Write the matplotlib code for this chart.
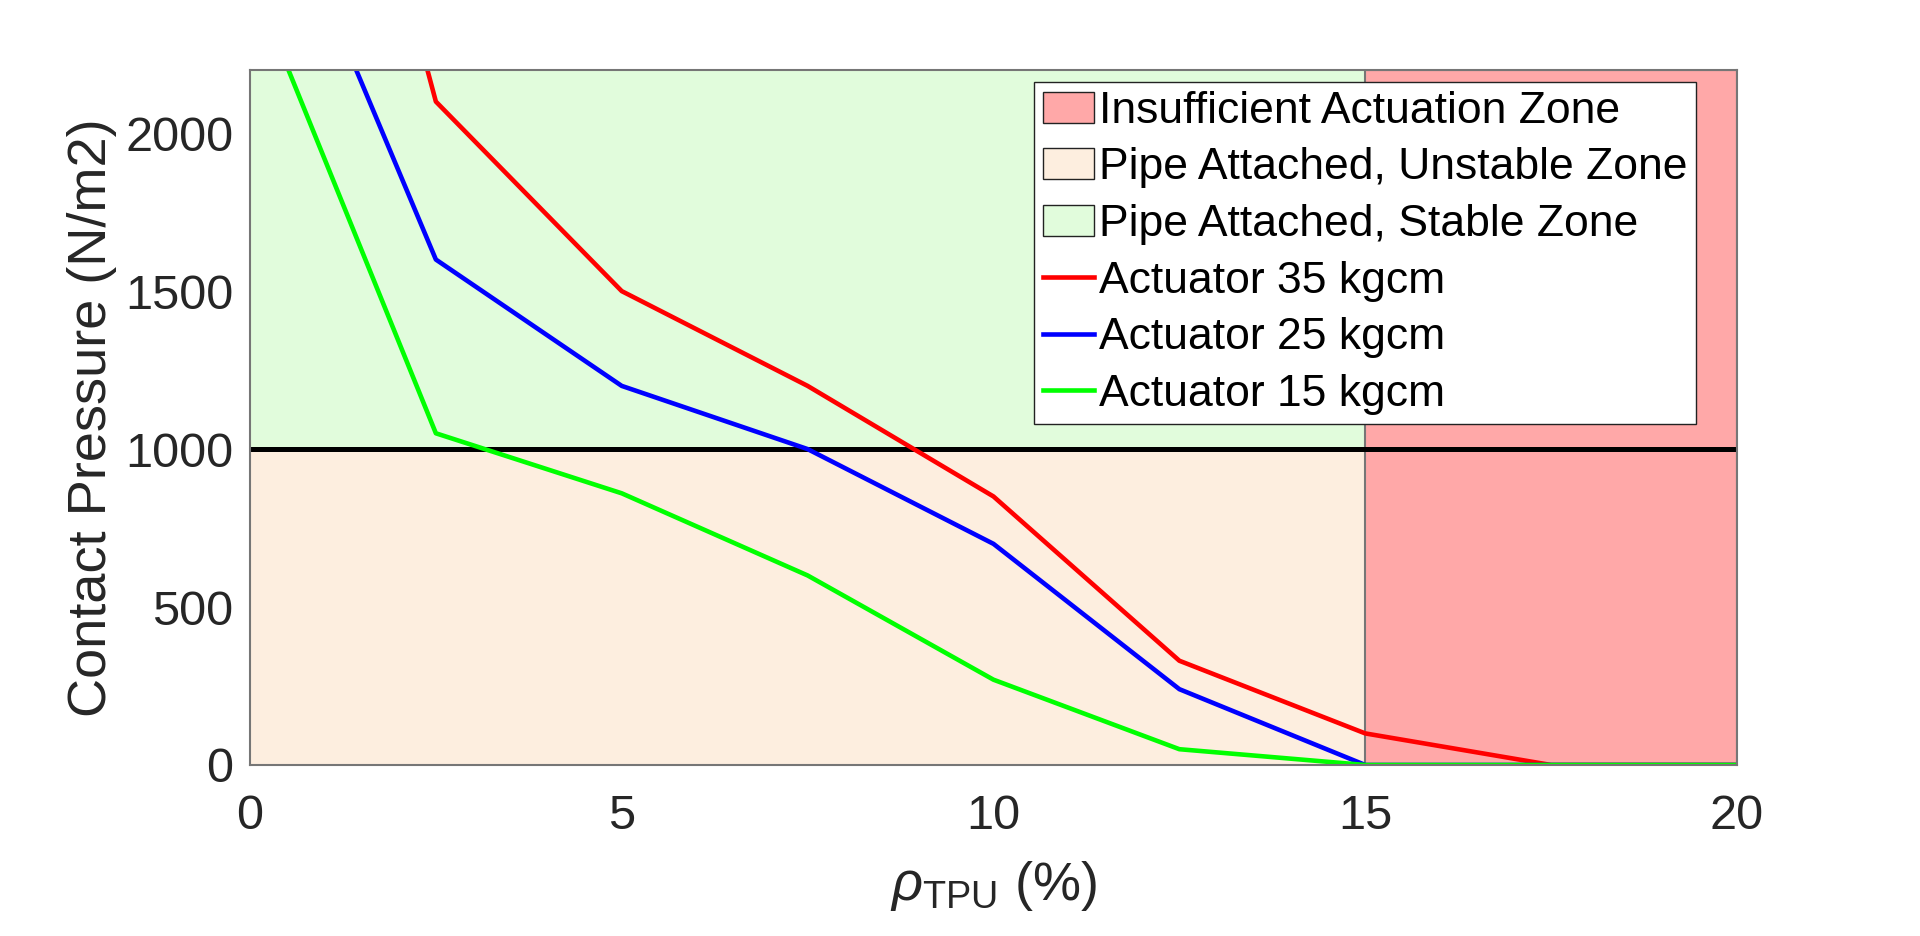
import matplotlib
matplotlib.use("Agg")
import matplotlib.pyplot as plt
from matplotlib.patches import Patch
from matplotlib.lines import Line2D

plt.rcParams['font.family'] = ['Liberation Sans', 'DejaVu Sans']
plt.rcParams['mathtext.fontset'] = 'custom'
plt.rcParams['mathtext.rm'] = 'Liberation Sans'
plt.rcParams['mathtext.it'] = 'Liberation Sans:italic'

# Data
rho = [0, 2.5, 5, 7.5, 10, 12.5, 15, 17.5, 20]
act35 = [4300, 2100, 1500, 1200, 850, 330, 100, 0, 0]
act25 = [3000, 1600, 1200, 1000, 700, 240, 0, 0, 0]
act15 = [2500, 1050, 860, 600, 270, 50, 0, 0, 0]
threshold = 1000
stable_limit = 15
x_max = 20
y_max = 2200

labels = ["Insufficient Actuation Zone", "Pipe Attached, Unstable Zone",
          "Pipe Attached, Stable Zone", "Actuator 35 kgcm",
          "Actuator 25 kgcm", "Actuator 15 kgcm"]

c_red = '#FFA8A8'
c_peach = '#FDEEDF'
c_green = '#E1FCDC'
edge = '#767676'
tick_col = '#262626'

W, H = 1920, 936
fig = plt.figure(figsize=(W/100, H/100), dpi=100)
ax = fig.add_axes([250/W, 1-765/H, (1737-250)/W, (765-70)/H])

ax.fill_between([0, stable_limit], [threshold, threshold], [y_max, y_max],
                facecolor=c_green, edgecolor='none', zorder=1)
ax.fill_between([0, stable_limit], [0, 0], [threshold, threshold],
                facecolor=c_peach, edgecolor='none', zorder=1)
ax.fill_between([stable_limit, x_max], [0, 0], [y_max, y_max],
                facecolor=c_red, edgecolor=edge, linewidth=1.5, zorder=1)

ax.axhline(threshold, color='black', linewidth=3.6, zorder=3)
lw = 3.3
ax.plot(rho, act35, color='#FF0000', linewidth=lw, zorder=4)
ax.plot(rho, act25, color='#0000FF', linewidth=lw, zorder=4)
ax.plot(rho, act15, color='#00FF00', linewidth=lw, zorder=4)

ax.set_xlim(0, x_max)
ax.set_ylim(0, y_max)
ax.set_xticks([0, 5, 10, 15, 20])
ax.set_yticks([0, 500, 1000, 1500, 2000])
ax.tick_params(direction='in', length=0, labelsize=35, colors=tick_col)
ax.tick_params(axis='x', pad=21)
ax.tick_params(axis='y', pad=12)
for s in ax.spines.values():
    s.set_color(edge)
    s.set_linewidth(1.5)
    s.set_zorder(5)

ax.set_xlabel(r'$\rho_{\mathrm{TPU}}$ (%)', fontsize=39, color=tick_col, labelpad=14)
ax.set_ylabel('Contact Pressure (N/m2)', fontsize=39, color=tick_col, labelpad=6)

handles = [Patch(facecolor=c_red, edgecolor='#222222', linewidth=1),
           Patch(facecolor=c_peach, edgecolor='#222222', linewidth=1),
           Patch(facecolor=c_green, edgecolor='#222222', linewidth=1),
           Line2D([], [], color='#FF0000', linewidth=lw),
           Line2D([], [], color='#0000FF', linewidth=lw),
           Line2D([], [], color='#00FF00', linewidth=lw)]
leg = ax.legend(handles, labels, loc='upper right',
                bbox_to_anchor=(1696/W, 1-82/H), bbox_transform=fig.transFigure,
                borderaxespad=0, fontsize=32, frameon=True, fancybox=False,
                framealpha=1, edgecolor='#222222', handlelength=1.15,
                handleheight=0.7, handletextpad=0.1, labelspacing=0.35,
                borderpad=0.2)
leg.get_frame().set_linewidth(1)
leg.set_zorder(6)

fig.savefig('out.png', dpi=100)
